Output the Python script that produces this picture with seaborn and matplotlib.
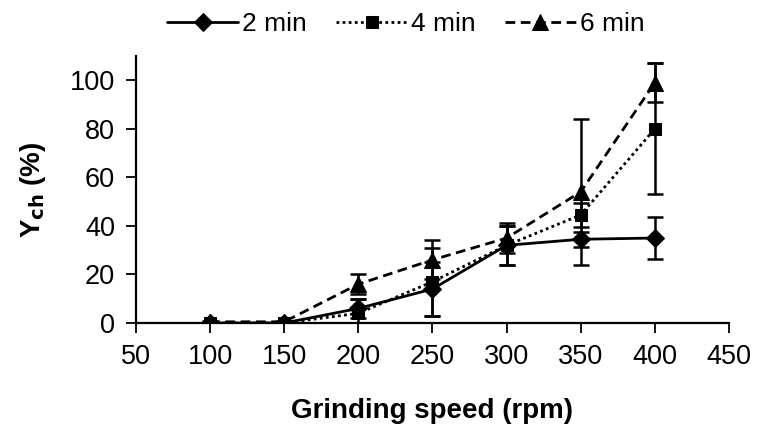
import pandas as pd
import matplotlib.pyplot as plt
import seaborn as sns

# data
speed = [100, 150, 200, 250, 300, 350, 400]
y_2min = [0, 0, 6, 14, 32, 34.5, 35]
y_4min = [0, 0, 4, 17, 32, 44.5, 80]
y_6min = [0.5, 0.5, 16, 26, 35, 54, 99]
err_2min = [0.5, 0.5, 4, 11, 8, 3, 8.5]
err_4min = [0.5, 0.5, 6, 14, 8, 5, 27]
err_6min = [0.5, 0.5, 4, 8, 6, 30, 8]
series = ["2 min", "4 min", "6 min"]

sns.set_style("ticks")
plt.rcParams['font.family'] = ['Liberation Sans', 'DejaVu Sans']
plt.rcParams.update({"text.color": "black", "axes.labelcolor": "black",
                     "xtick.color": "black", "ytick.color": "black",
                     "axes.edgecolor": "black"})

df = pd.DataFrame({
    "speed": speed * 3,
    "y": y_2min + y_4min + y_6min,
    "time": [s for s in series for _ in speed],
})

fig = plt.figure(figsize=(7.58, 4.44), dpi=100)
ax = fig.add_axes([0.1794, 0.2725, 0.7823, 0.6015])

# error bars first, underneath the lines
for ys, es in [(y_2min, err_2min), (y_4min, err_4min), (y_6min, err_6min)]:
    ax.errorbar(speed, ys, yerr=es, fmt="none", ecolor="black",
                elinewidth=1.8, capsize=6, capthick=1.8, zorder=2)

sns.lineplot(data=df, x="speed", y="y", hue="time", style="time",
             palette=["black"] * 3,
             markers={"2 min": "D", "4 min": "s", "6 min": "^"},
             dashes={"2 min": "", "4 min": (1, 1.2), "6 min": (3.5, 2)},
             markersize=9, linewidth=2, markeredgecolor="black",
             ax=ax, zorder=3)
# triangles a bit larger, as in the original
for ln in ax.lines:
    if ln.get_marker() == "^":
        ln.set_markersize(11)

ax.set_xlim(50, 450)
ax.set_ylim(0, 110)
ax.set_xticks(range(50, 451, 50))
ax.set_yticks(range(0, 101, 20))
ax.tick_params(labelsize=19.5, length=7, width=1.3, direction="out", pad=8)
for s in ["left", "bottom"]:
    ax.spines[s].set_linewidth(1.6)
sns.despine(ax=ax)

ax.set_xlabel("Grinding speed (rpm)", fontsize=20, fontweight="bold", labelpad=20)
ax.set_ylabel("Y$_{\\mathbf{ch}}$ (%)", fontsize=20, fontweight="bold", labelpad=16)

leg = ax.legend(loc="center", bbox_to_anchor=(0.455, 1.12), ncol=3, frameon=False,
                fontsize=19, handlelength=2.7, columnspacing=1.1, handletextpad=0.15)
for h, ms in zip(leg.legend_handles, [9, 9, 11]):
    h.set_markersize(ms)

plt.savefig("out.png", dpi=100)
